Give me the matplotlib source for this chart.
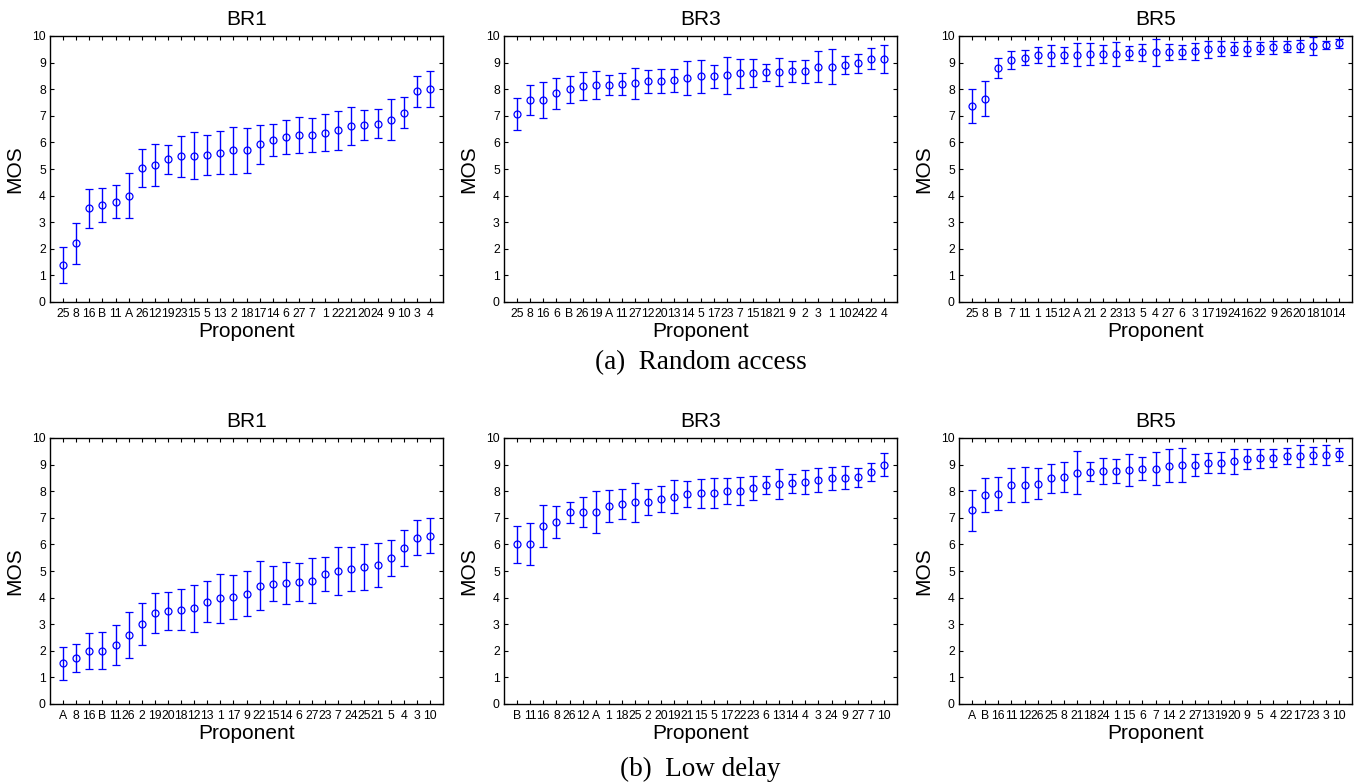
"""MOS per proponent, random access vs low delay, three bit rates each."""
import matplotlib

matplotlib.use("Agg")
import matplotlib.pyplot as plt

BLUE = "#0000ff"
plt.rcParams["font.family"] = ["Liberation Sans", "DejaVu Sans"]

# random access
ra_br1_labels = ["25", "8", "16", "B", "11", "A", "26", "12", "19", "23", "15", "5", "13", "2",
                 "18", "17", "14", "6", "27", "7", "1", "22", "21", "20", "24", "9", "10", "3", "4"]
ra_br1_mos = [1.38, 2.20, 3.52, 3.65, 3.77, 4.00, 5.05, 5.15, 5.37, 5.48, 5.50, 5.52, 5.62, 5.70,
              5.70, 5.93, 6.08, 6.22, 6.27, 6.27, 6.37, 6.45, 6.62, 6.65, 6.70, 6.85, 7.12, 7.92, 8.00]
ra_br1_ci = [0.67, 0.77, 0.74, 0.65, 0.62, 0.85, 0.71, 0.80, 0.55, 0.77, 0.88, 0.76, 0.81, 0.87,
             0.86, 0.74, 0.61, 0.64, 0.67, 0.63, 0.68, 0.73, 0.72, 0.55, 0.54, 0.77, 0.59, 0.58, 0.68]

ra_br3_labels = ["25", "8", "16", "6", "B", "26", "19", "A", "11", "27", "12", "20", "13", "14",
                 "5", "17", "23", "7", "15", "18", "21", "9", "2", "3", "1", "10", "24", "22", "4"]
ra_br3_mos = [7.07, 7.60, 7.60, 7.85, 8.00, 8.12, 8.15, 8.15, 8.20, 8.23, 8.30, 8.30, 8.33, 8.42,
              8.48, 8.48, 8.52, 8.60, 8.60, 8.63, 8.65, 8.67, 8.67, 8.85, 8.85, 8.90, 8.97, 9.15, 9.15]
ra_br3_ci = [0.60, 0.57, 0.67, 0.58, 0.50, 0.52, 0.53, 0.38, 0.42, 0.58, 0.44, 0.45, 0.43, 0.65,
             0.62, 0.44, 0.70, 0.54, 0.52, 0.31, 0.54, 0.40, 0.43, 0.57, 0.67, 0.34, 0.35, 0.39, 0.53]

ra_br5_labels = ["25", "8", "B", "7", "11", "1", "15", "12", "A", "21", "2", "23", "13", "5",
                 "4", "27", "6", "3", "17", "19", "24", "16", "22", "9", "26", "20", "18", "10", "14"]
ra_br5_mos = [7.37, 7.65, 8.80, 9.10, 9.18, 9.28, 9.28, 9.28, 9.30, 9.32, 9.32, 9.32, 9.37, 9.38,
              9.38, 9.40, 9.40, 9.42, 9.50, 9.52, 9.53, 9.53, 9.55, 9.57, 9.60, 9.62, 9.62, 9.67, 9.72]
ra_br5_ci = [0.63, 0.66, 0.37, 0.35, 0.28, 0.30, 0.40, 0.30, 0.42, 0.40, 0.33, 0.44, 0.27, 0.31,
             0.50, 0.31, 0.28, 0.31, 0.32, 0.29, 0.24, 0.29, 0.23, 0.24, 0.21, 0.24, 0.35, 0.15, 0.18]

# low delay
ld_br1_labels = ["A", "8", "16", "B", "11", "26", "2", "19", "20", "18", "12", "13", "1", "17",
                 "9", "22", "15", "14", "6", "27", "23", "7", "24", "25", "21", "5", "4", "3", "10"]
ld_br1_mos = [1.53, 1.73, 2.00, 2.00, 2.22, 2.58, 3.00, 3.42, 3.50, 3.55, 3.60, 3.85, 3.97, 4.03,
              4.15, 4.45, 4.53, 4.55, 4.60, 4.63, 4.88, 5.00, 5.07, 5.15, 5.22, 5.50, 5.85, 6.25, 6.33]
ld_br1_ci = [0.63, 0.53, 0.68, 0.70, 0.74, 0.86, 0.78, 0.76, 0.72, 0.76, 0.89, 0.77, 0.92, 0.82,
             0.84, 0.92, 0.67, 0.79, 0.71, 0.85, 0.64, 0.90, 0.83, 0.88, 0.82, 0.68, 0.68, 0.65, 0.65]

ld_br3_labels = ["B", "11", "16", "8", "26", "12", "A", "1", "18", "25", "2", "20", "19", "21",
                 "15", "5", "17", "22", "23", "6", "13", "14", "4", "3", "24", "9", "27", "7", "10"]
ld_br3_mos = [6.00, 6.03, 6.70, 6.85, 7.20, 7.22, 7.22, 7.45, 7.52, 7.58, 7.60, 7.70, 7.80, 7.88,
              7.92, 7.93, 8.00, 8.00, 8.12, 8.23, 8.27, 8.30, 8.35, 8.42, 8.48, 8.50, 8.52, 8.73, 9.00]
ld_br3_ci = [0.71, 0.79, 0.78, 0.60, 0.40, 0.55, 0.78, 0.60, 0.55, 0.74, 0.48, 0.49, 0.63, 0.49,
             0.55, 0.58, 0.48, 0.53, 0.45, 0.35, 0.55, 0.36, 0.45, 0.45, 0.43, 0.43, 0.35, 0.34, 0.43]

ld_br5_labels = ["A", "B", "16", "11", "12", "26", "25", "8", "21", "18", "24", "1", "15", "6",
                 "7", "14", "2", "27", "13", "19", "20", "9", "5", "4", "22", "17", "23", "3", "10"]
ld_br5_mos = [7.28, 7.85, 7.90, 8.23, 8.25, 8.28, 8.48, 8.53, 8.70, 8.73, 8.77, 8.77, 8.80, 8.85,
              8.85, 8.95, 8.98, 8.98, 9.05, 9.07, 9.12, 9.20, 9.23, 9.25, 9.33, 9.33, 9.35, 9.37, 9.38]
ld_br5_ci = [0.76, 0.64, 0.62, 0.64, 0.66, 0.59, 0.54, 0.57, 0.80, 0.35, 0.49, 0.45, 0.59, 0.43,
             0.62, 0.62, 0.64, 0.41, 0.37, 0.39, 0.46, 0.38, 0.37, 0.33, 0.31, 0.41, 0.32, 0.37, 0.25]

panels = [
    [("BR1", ra_br1_labels, ra_br1_mos, ra_br1_ci),
     ("BR3", ra_br3_labels, ra_br3_mos, ra_br3_ci),
     ("BR5", ra_br5_labels, ra_br5_mos, ra_br5_ci)],
    [("BR1", ld_br1_labels, ld_br1_mos, ld_br1_ci),
     ("BR3", ld_br3_labels, ld_br3_mos, ld_br3_ci),
     ("BR5", ld_br5_labels, ld_br5_mos, ld_br5_ci)],
]
captions = ["(a)  Random access", "(b)  Low delay"]

W, H = 1362, 784
fig = plt.figure(figsize=(W / 100, H / 100), dpi=100)

lefts = [50, 504, 959]
tops = [36, 438]
aw, ah = 393, 266

for r, row in enumerate(panels):
    for c, (title, labels, mos, ci) in enumerate(row):
        ax = fig.add_axes([lefts[c] / W, 1 - (tops[r] + ah) / H, aw / W, ah / H])
        x = list(range(1, len(mos) + 1))
        ax.errorbar(x, mos, yerr=ci, fmt="o", color=BLUE, ecolor=BLUE,
                    mfc="none", mec=BLUE, ms=5, mew=0.9, elinewidth=1,
                    capsize=3, capthick=1)
        ax.set_xlim(0, len(mos) + 1)
        ax.set_ylim(0, 10)
        ax.set_yticks(range(11))
        ax.set_xticks(x, labels)
        ax.tick_params(direction="in", top=True, right=True, length=3,
                       width=0.8, labelsize=8.8, pad=3)
        ax.tick_params(axis="x", pad=4)
        for s in ax.spines.values():
            s.set_linewidth(1)
        ax.set_title(title, fontsize=15, pad=8)
        ax.set_xlabel("Proponent", fontsize=15, labelpad=2)
        ax.set_ylabel("MOS", fontsize=15, labelpad=6)
    fig.text((lefts[1] + aw / 2) / W, [0.538, 0.018][r], captions[r],
             ha="center", va="center", fontsize=19.5, family="Liberation Serif")

fig.savefig("out.png", dpi=100)
